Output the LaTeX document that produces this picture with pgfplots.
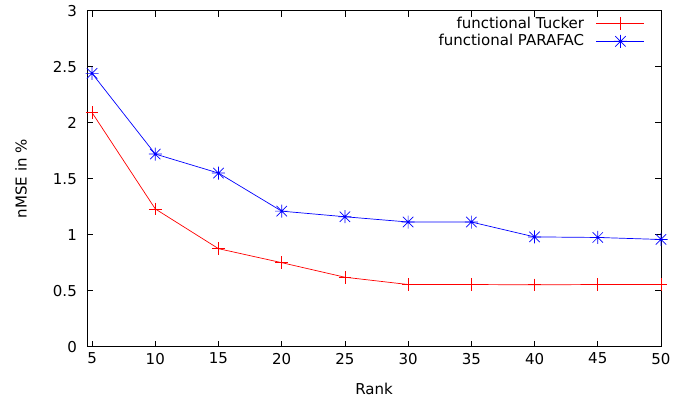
\documentclass[border=0pt]{standalone}
\usepackage{fontspec}
\setmainfont{DejaVu Sans}
\usepackage{pgfplots}
\pgfplotsset{compat=1.18}
\pgfdeclareplotmark{gpstar}{%
  \pgfpathmoveto{\pgfqpoint{-\pgfplotmarksize}{0pt}}\pgfpathlineto{\pgfqpoint{\pgfplotmarksize}{0pt}}%
  \pgfpathmoveto{\pgfqpoint{0pt}{-\pgfplotmarksize}}\pgfpathlineto{\pgfqpoint{0pt}{\pgfplotmarksize}}%
  \pgfpathmoveto{\pgfqpoint{-0.8\pgfplotmarksize}{-0.8\pgfplotmarksize}}\pgfpathlineto{\pgfqpoint{0.8\pgfplotmarksize}{0.8\pgfplotmarksize}}%
  \pgfpathmoveto{\pgfqpoint{-0.8\pgfplotmarksize}{0.8\pgfplotmarksize}}\pgfpathlineto{\pgfqpoint{0.8\pgfplotmarksize}{-0.8\pgfplotmarksize}}%
  \pgfusepathqstroke}
\begin{document}
\fontsize{15}{18}\selectfont
\begin{tikzpicture}
\path (-87pt,-55pt) rectangle (599pt,346pt);
\begin{axis}[
  scale only axis, width=574pt, height=336pt,
  xmin=4.6, xmax=50, ymin=0, ymax=3,
  xtick={5,10,...,50}, ytick={0,0.5,...,3},
  tick align=inside, major tick length=6pt,
  tick style={black, line width=0.6pt},
  axis line style={black, line width=0.8pt},
  /pgf/number format/assume math mode=true,
  yticklabel style={/pgf/number format/fixed, /pgf/number format/precision=1, xshift=-5pt},
  ticklabel style={font=\fontsize{15}{18}\selectfont},
  xticklabel style={yshift=-1pt},
  xlabel={Rank}, ylabel={nMSE in \%},
  label style={font=\fontsize{15}{18}\selectfont},
  xlabel style={yshift=-9pt},
  ylabel style={yshift=16pt},
  legend style={draw=none, fill=none, at={(axis cs:50,3)}, anchor=north east, xshift=-16pt, yshift=-4pt,
    font=\fontsize{15}{18}\selectfont, row sep=0pt, inner sep=0pt},
  legend cell align=right, legend plot pos=right,
  legend image code/.code={\path (0pt,0pt); \draw[#1] (10pt,0pt) -- (58pt,0pt); \draw[#1, only marks] plot coordinates {(34pt,0pt)};},
]
\addplot[red, line width=0.7pt, mark=+, mark size=6.3pt, mark options={solid}] coordinates {
(5,2.09) (10,1.23) (15,0.875) (20,0.75) (25,0.62) (30,0.555) (35,0.555) (40,0.552) (45,0.555) (50,0.555)};
\addlegendentry{functional Tucker}
\addplot[blue, line width=0.7pt, mark=gpstar, mark size=6.5pt] coordinates {
(5,2.44) (10,1.72) (15,1.55) (20,1.21) (25,1.16) (30,1.113) (35,1.113) (40,0.98) (45,0.975) (50,0.957)};
\addlegendentry{functional PARAFAC}
\end{axis}
\end{tikzpicture}
\end{document}
